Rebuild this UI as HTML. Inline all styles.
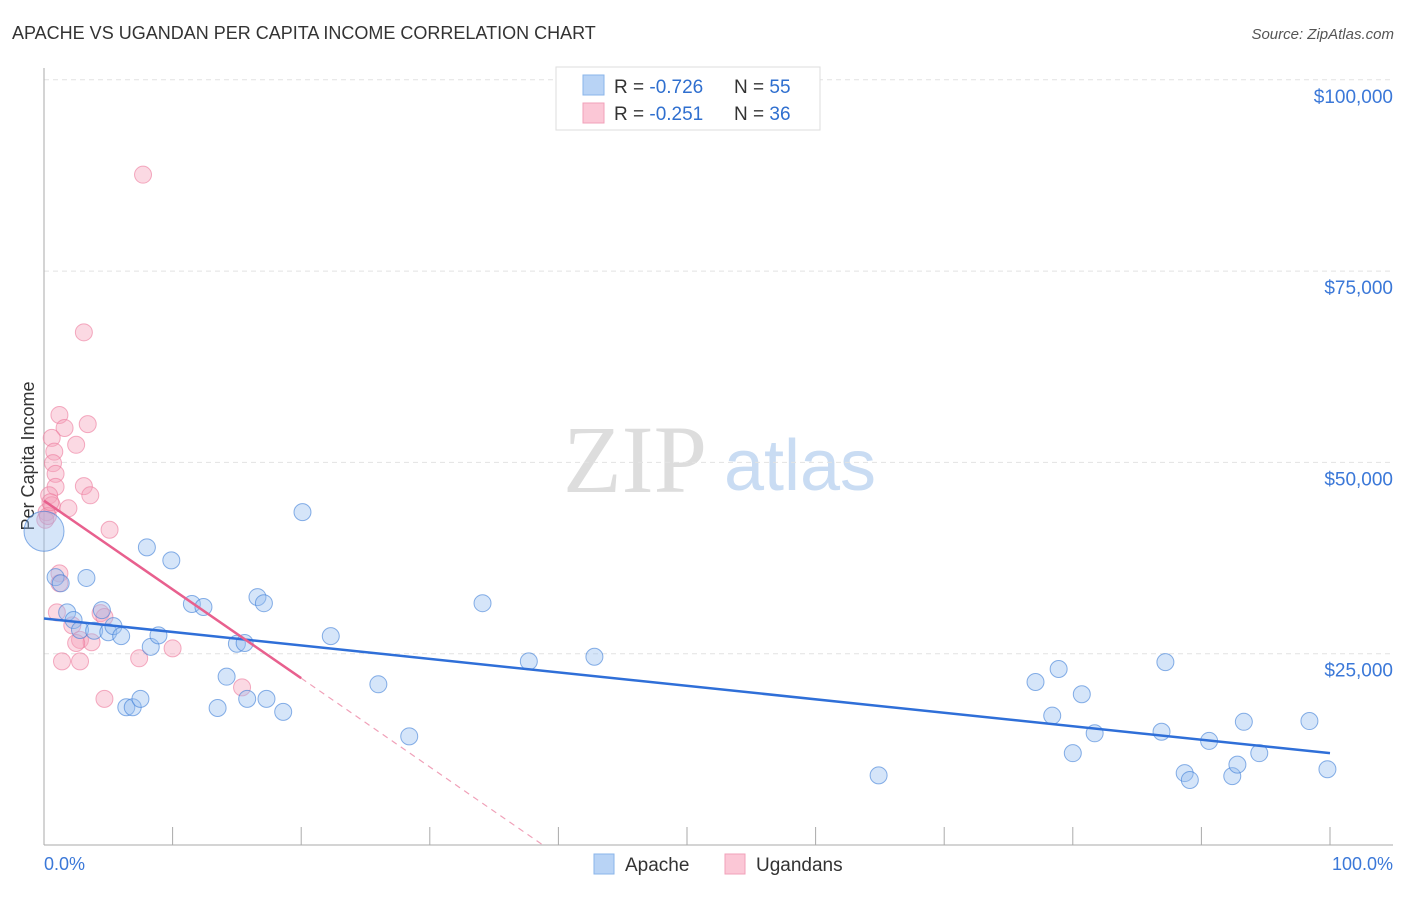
<!DOCTYPE html>
<html><head><meta charset="utf-8"><style>
body{margin:0;background:#fff;font-family:"Liberation Sans",sans-serif;}
</style></head><body>
<svg id="c" width="1406" height="892" xmlns="http://www.w3.org/2000/svg">
<text x="12" y="39" font-size="18" fill="#333">APACHE VS UGANDAN PER CAPITA INCOME CORRELATION CHART</text>
<text x="1394" y="39" font-size="15" fill="#555" font-style="italic" text-anchor="end">Source: ZipAtlas.com</text>
<text x="635" y="492" font-size="96" fill="#ddd" font-family="Liberation Serif" text-anchor="middle">ZIP</text>
<text x="800" y="490" font-size="72" fill="#c9dcf3" text-anchor="middle">atlas</text>
<text transform="translate(34,456) rotate(-90)" font-size="18" fill="#333" text-anchor="middle">Per Capita Income</text>
<g id="grid"></g><g id="pts"></g><g id="trend"></g>
<g>
<rect x="556" y="67" width="264" height="63" fill="#fff" stroke="#ddd"/>
<rect x="583" y="75" width="21" height="20" fill="#b8d3f5" stroke="#8ab4ea"/>
<rect x="583" y="103" width="21" height="20" fill="#fbc7d6" stroke="#f1a0b9"/>
<text x="614" y="93" font-size="19" fill="#333">R = <tspan fill="#2f6fcf">-0.726</tspan></text>
<text x="734" y="93" font-size="19" fill="#333">N = <tspan fill="#2f6fcf">55</tspan></text>
<text x="614" y="120" font-size="19" fill="#333">R =  <tspan fill="#2f6fcf">-0.251</tspan></text>
<text x="734" y="120" font-size="19" fill="#333">N = <tspan fill="#2f6fcf">36</tspan></text>
</g>
<g>
<rect x="594" y="854" width="20" height="20" fill="#b8d3f5" stroke="#8ab4ea"/>
<text x="625" y="871" font-size="19" fill="#333">Apache</text>
<rect x="725" y="854" width="20" height="20" fill="#fbc7d6" stroke="#f1a0b9"/>
<text x="756" y="871" font-size="19" fill="#333">Ugandans</text>
</g>
<text x="44" y="870" font-size="18" fill="#3b78d8">0.0%</text>
<text x="1393" y="870" font-size="18" fill="#3b78d8" text-anchor="end">100.0%</text>
</svg>
<script>
const yTicks=[25000,50000,75000,100000];
const yTickLabels=["$25,000","$50,000","$75,000","$100,000"];
const apacheX=[0,0.9,1.3,3.3,1.8,2.3,2.8,3.9,4.5,5.0,5.4,6.0,6.4,6.9,7.5,8.0,8.3,8.9,9.9,11.5,12.4,13.5,14.2,15.0,15.6,15.8,16.6,17.1,17.3,18.6,20.1,22.3,26.0,28.4,34.1,37.7,42.8,64.9,77.1,78.4,78.9,80.0,80.7,81.7,86.9,87.2,88.7,89.1,90.6,92.4,92.8,93.3,94.5,98.4,99.8];
const apacheY=[41.0,35.0,34.2,34.9,30.4,29.4,28.1,28.0,30.7,27.8,28.6,27.3,18.0,18.0,19.1,38.9,25.9,27.4,37.2,31.5,31.1,17.9,22.0,26.3,26.4,19.1,32.4,31.6,19.1,17.4,43.5,27.3,21.0,14.2,31.6,24.0,24.6,9.1,21.3,16.9,23.0,12.0,19.7,14.6,14.8,23.9,9.4,8.5,13.6,9.0,10.5,16.1,12.0,16.2,9.9];
const ugX=[7.7,3.1,1.2,1.6,3.4,2.5,0.6,0.8,0.7,0.9,3.1,0.9,3.6,0.4,0.6,1.9,0.2,5.1,1.2,1.2,1.0,4.4,2.2,4.7,2.8,3.7,2.5,1.4,2.8,7.4,10.0,4.7,15.4,0.1,0.3,0.5];
const ugY=[87.6,67.0,56.2,54.5,55.0,52.3,53.2,51.4,49.9,48.5,46.9,46.8,45.7,45.7,44.4,44.0,43.5,41.2,35.5,34.2,30.4,30.3,28.7,29.8,26.8,26.5,26.4,24.0,24.0,24.4,25.7,19.1,20.6,42.5,43.0,44.8];
const apacheTrend=[29.6,12.0]; // value at 0% and 100%
const ugTrend=[45.0,21.8];     // value at 0% and 20%
const sx=p=>44+p*12.86, sy=v=>845-v*1000/25000*191.3;
const NS="http://www.w3.org/2000/svg";
function mk(t,a,p){const e=document.createElementNS(NS,t);for(const k in a)e.setAttribute(k,a[k]);p.appendChild(e);return e;}
const grid=document.getElementById('grid');
yTicks.forEach((v,i)=>{
 const l=mk('line',{x1:44,x2:1393,y1:sy(v/1000),y2:sy(v/1000),stroke:'#e2e2e2','stroke-dasharray':'5,4'},grid);
 
 
 const t=mk('text',{x:1393,y:sy(v/1000)+23,'font-size':19,fill:'#3b78d8','text-anchor':'end'},grid);
 t.textContent=yTickLabels[i];
 
 
});
const ax=mk('line',{x1:44,x2:44,y1:68,y2:845,stroke:'#aaa'},grid);


const bx=mk('line',{x1:44,x2:1393,y1:845,y2:845,stroke:'#aaa'},grid);


for(let i=0;i<=10;i++){const t=mk('line',{x1:sx(i*10),x2:sx(i*10),y1:827,y2:845,stroke:'#aaa'},grid);
 
 }
const pts=document.getElementById('pts');
ugX.forEach((x,i)=>{const c=mk('circle',{cx:sx(x),cy:sy(ugY[i]),r:8.5,fill:'rgba(245,160,185,0.4)',stroke:'rgba(236,120,155,0.6)'},pts);
 
 });
apacheX.forEach((x,i)=>{const c=mk('circle',{cx:sx(x),cy:sy(apacheY[i]),r:i===0?20:8.5,fill:'rgba(150,190,240,0.4)',stroke:'rgba(60,125,215,0.6)'},pts);
 
 });
const tr=document.getElementById('trend');
const bl=mk('line',{x1:sx(0),y1:sy(apacheTrend[0]),x2:sx(100),y2:sy(apacheTrend[1]),stroke:'#2f6fd8','stroke-width':2.5},tr);


const pl=mk('line',{x1:sx(0),y1:sy(ugTrend[0]),x2:sx(20),y2:sy(ugTrend[1]),stroke:'#e8608e','stroke-width':2.5},tr);


const slope=(ugTrend[1]-ugTrend[0])/20, xz=-ugTrend[0]/slope;
const pd=mk('line',{x1:sx(20),y1:sy(ugTrend[1]),x2:sx(xz),y2:sy(0),stroke:'#f0a0b8','stroke-width':1.2,'stroke-dasharray':'6,5'},tr);


</script>
</body></html>
